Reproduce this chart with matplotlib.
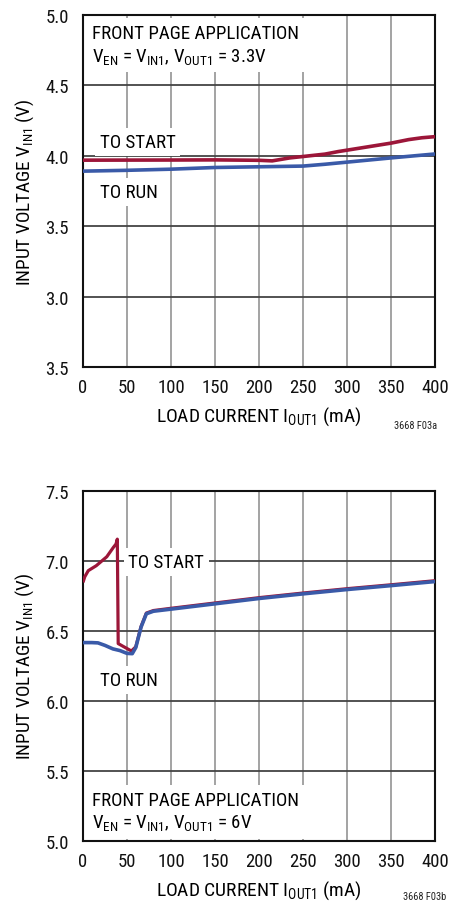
import matplotlib
matplotlib.use("Agg")
import matplotlib.pyplot as plt
from matplotlib.ticker import FixedLocator, FixedFormatter

FONT = ['Roboto Condensed', 'Liberation Sans', 'DejaVu Sans']
plt.rcParams['font.family'] = FONT
plt.rcParams['mathtext.fontset'] = 'custom'
plt.rcParams['mathtext.rm'] = 'Roboto Condensed'
plt.rcParams['mathtext.it'] = 'Roboto Condensed'
plt.rcParams['mathtext.bf'] = 'Roboto Condensed'

RED = '#9c1639'
BLUE = '#3a5aa8'

# ---- data: top chart (VOUT1 = 3.3V) ----
a_start_x = [0, 100, 150, 200, 215, 235, 250, 275, 290, 300, 325, 350, 370, 385, 400]
a_start_v = [3.969, 3.970, 3.971, 3.968, 3.964, 3.985, 3.995, 4.012, 4.030, 4.040, 4.065, 4.090, 4.115, 4.128, 4.136]
a_run_x = [0, 50, 100, 150, 200, 250, 275, 300, 350, 400]
a_run_v = [3.891, 3.897, 3.905, 3.917, 3.922, 3.927, 3.940, 3.955, 3.985, 4.013]
a_yticks = [2.5, 3.0, 3.5, 4.0, 4.5, 5.0]
a_yticklabels = ['3.5', '3.0', '3.5', '4.0', '4.5', '5.0']

# ---- data: bottom chart (VOUT1 = 6V) ----
b_start_x = [0, 2, 6, 15, 27, 34.5, 37.5, 39, 40, 55, 60, 66, 72, 80, 100, 150, 200, 250, 300, 350, 400]
b_start_v = [6.845, 6.885, 6.929, 6.964, 7.028, 7.095, 7.119, 7.154, 6.408, 6.355, 6.385, 6.530, 6.626, 6.644,
             6.660, 6.698, 6.736, 6.769, 6.800, 6.828, 6.857]
b_run_x = [0, 10, 17, 25, 34, 42, 50, 56, 60, 66, 72, 80, 100, 150, 200, 250, 300, 350, 400]
b_run_v = [6.415, 6.415, 6.413, 6.395, 6.370, 6.358, 6.338, 6.336, 6.380, 6.526, 6.621, 6.639,
           6.654, 6.692, 6.730, 6.763, 6.794, 6.822, 6.851]
b_yticks = [5.0, 5.5, 6.0, 6.5, 7.0, 7.5]
b_yticklabels = ['5.0', '5.5', '6.0', '6.5', '7.0', '7.5']

xticks = [0, 50, 100, 150, 200, 250, 300, 350, 400]

fig = plt.figure(figsize=(4.5, 9.03), dpi=100)
ax1 = fig.add_axes([83/450, 1-368/903, 352/450, 352/903])
ax2 = fig.add_axes([83/450, 1-841.7/903, 352/450, 350/903])

ylabel = r'INPUT VOLTAGE V$_{\mathregular{IN1}}$ (V)'
xlabel = r'LOAD CURRENT I$_{\mathregular{OUT1}}$ (mA)'

for ax, yt, ytl, ylim in [(ax1, a_yticks, a_yticklabels, (2.5, 5.0)), (ax2, b_yticks, b_yticklabels, (5.0, 7.5))]:
    ax.set_xlim(0, 400)
    ax.set_ylim(*ylim)
    ax.xaxis.set_major_locator(FixedLocator(xticks))
    ax.yaxis.set_major_locator(FixedLocator(yt))
    ax.yaxis.set_major_formatter(FixedFormatter(ytl))
    ax.tick_params(length=0, labelsize=13.5, colors='#111111')
    ax.tick_params(axis='x', pad=8)
    ax.tick_params(axis='y', pad=10)
    for s in ax.spines.values():
        s.set_linewidth(1.5)
        s.set_color('#111111')
    for x in xticks[1:-1]:
        ax.axvline(x, color='#8a8a8a', lw=1.1, zorder=1)
    for y in yt[1:-1]:
        ax.axhline(y, color='#444444', lw=1.3, zorder=1)
    ax.set_ylabel(ylabel, fontsize=13.8, labelpad=7)
    ax.set_xlabel(xlabel, fontsize=14, labelpad=6)

box = dict(boxstyle='square,pad=0.25', facecolor='white', edgecolor='none')
bigbox = dict(boxstyle='square,pad=0.35', facecolor='white', edgecolor='none')

ax1.plot(a_run_x, a_run_v, color=BLUE, lw=2.6, zorder=4, solid_capstyle='butt')
ax1.plot(a_start_x, a_start_v, color=RED, lw=2.6, zorder=4, solid_capstyle='butt')
ax1.text(10, 4.675, 'FRONT PAGE APPLICATION\n' + r'V$_{\mathregular{EN}}$ = V$_{\mathregular{IN1}}$, V$_{\mathregular{OUT1}}$ = 3.3V',
         fontsize=13.6, ha='left', va='baseline', linespacing=1.25, bbox=bigbox, zorder=3)
ax1.text(19, 4.063, 'TO START', fontsize=13.6, ha='left', va='baseline', bbox=box, zorder=3)
ax1.text(19, 3.707, 'TO RUN', fontsize=13.6, ha='left', va='baseline', bbox=box, zorder=3)

ax2.plot(b_start_x, b_start_v, color=RED, lw=2.3, zorder=4, solid_capstyle='butt')
ax2.plot(b_run_x, b_run_v, color=BLUE, lw=2.6, zorder=4, solid_capstyle='butt')
ax2.text(10, 5.096, 'FRONT PAGE APPLICATION\n' + r'V$_{\mathregular{EN}}$ = V$_{\mathregular{IN1}}$, V$_{\mathregular{OUT1}}$ = 6V',
         fontsize=13.6, ha='left', va='baseline', linespacing=1.25, bbox=bigbox, zorder=3)
ax2.text(51.5, 6.955, 'TO START', fontsize=13.6, ha='left', va='baseline', bbox=box, zorder=3)
ax2.text(19, 6.112, 'TO RUN', fontsize=13.6, ha='left', va='baseline', bbox=box, zorder=3)

fig.text(437/450, 1-429/903, '3668 F03a', fontsize=7.5, ha='right', va='baseline', color='#222222')
fig.text(446/450, 1-900/903, '3668 F03b', fontsize=7.5, ha='right', va='baseline', color='#222222')

fig.savefig('out.png', dpi=100, facecolor='white')
